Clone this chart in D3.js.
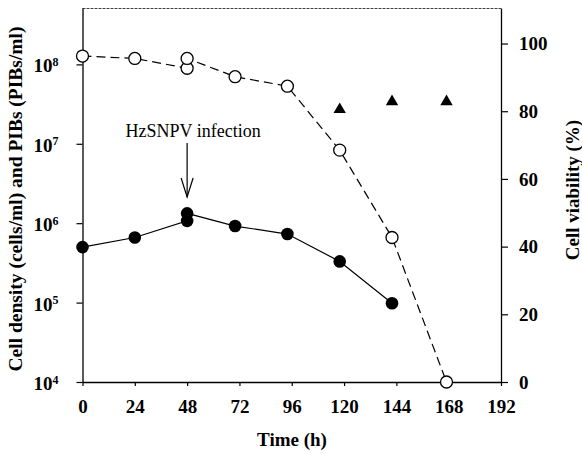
<!DOCTYPE html>
<html lang="en">
<head>
<meta charset="UTF-8">
<title>HzSNPV infection</title>
<style>
body{margin:0;background:#fff;}
.chart text{font-family:"Liberation Serif","Times New Roman",serif;fill:#000;}
</style>
</head>
<body>
<div class="chart"></div>
<script src="https://d3js.org/d3.v7.min.js"></script>
<script>
// tick labels
var xTicks = [0, 24, 48, 72, 96, 120, 144, 168, 192];
var leftExps = [4, 5, 6, 7, 8];
var rightTicks = [0, 20, 40, 60, 80, 100];

// cell density (cells/ml), filled circles
var densTime = [0, 24, 48, 48, 70, 94, 118, 142];
var densVal = [5.0e5, 6.6e5, 1.07e6, 1.33e6, 9.2e5, 7.3e5, 3.3e5, 9.8e4];

// cell viability (%), open circles
var viaTime = [0, 24, 48, 48, 70, 94, 118, 142, 167];
var viaVal = [96.3, 95.6, 92.7, 95.6, 90.2, 87.4, 68.5, 42.7, 0];

// PIBs (PIBs/ml), triangles
var pibTime = [118, 142, 167];
var pibVal = [2.7e7, 3.4e7, 3.4e7];

var margin = {top: 8, right: 80, bottom: 72, left: 82.5};
var W = 582, H = 454;
var width = 501 - margin.left;
var height = 382 - margin.top;

var svg = d3.select('.chart').append('svg')
	.attr('width', W).attr('height', H);
var g = svg.append('g')
	.attr('transform', `translate(${margin.left},${margin.top})`);

var x = d3.scaleLinear().domain([0, 192]).range([0, width]);
var yL = d3.scaleLog().domain([1e4, Math.pow(10, 8.71)]).range([height, 0]);
var yR = d3.scaleLinear().domain([0, 110.5]).range([height, 0]);

// frame top (dotted in the scan)
g.append('line').attr('x1', 0).attr('x2', width).attr('y1', 0.5).attr('y2', 0.5)
	.attr('stroke', '#444').attr('stroke-width', 1).attr('stroke-dasharray', '3,1');

var xAxis = d3.axisBottom(x).tickValues(xTicks).tickSizeInner(4).tickSizeOuter(0).tickPadding(14);
var gx = g.append('g').attr('transform', `translate(0,${height})`).call(xAxis);
gx.selectAll('text').style('font-size', '19px').style('font-weight', 'bold');

var lAxis = d3.axisLeft(yL).tickValues(leftExps.map(e => Math.pow(10, e)))
	.tickSizeInner(6).tickSizeOuter(0).tickPadding(18).tickFormat('');
var gl = g.append('g').call(lAxis);
gl.selectAll('.tick').each(function(d, i) {
	var t = d3.select(this).select('text')
		.attr('x', -24).attr('dy', '0.40em')
		.style('font-size', '19px').style('font-weight', 'bold').attr('text-anchor', 'end');
	t.append('tspan').text('10');
	t.append('tspan').attr('dy', '-0.55em').style('font-size', '12px').text(leftExps[i]);
});

var rAxis = d3.axisRight(yR).tickValues(rightTicks).tickSizeInner(7).tickSizeOuter(0).tickPadding(11);
var gr = g.append('g').attr('transform', `translate(${width},0)`).call(rAxis);
gr.selectAll('text').style('font-size', '19px').style('font-weight', 'bold');

g.selectAll('.domain').attr('stroke', '#000').attr('stroke-width', 1.3);
g.selectAll('.tick line').attr('stroke', '#000').attr('stroke-width', 1.2);

// axis titles
svg.append('text').attr('x', 292).attr('y', 446).attr('text-anchor', 'middle')
	.style('font-size', '19px').style('font-weight', 'bold').text('Time (h)');
svg.append('text').attr('transform', 'translate(22,199) rotate(-90)').attr('text-anchor', 'middle')
	.style('font-size', '19.5px').style('font-weight', 'bold')
	.text('Cell density (cells/ml) and PIBs (PIBs/ml)');
svg.append('text').attr('transform', 'translate(579,190) rotate(-90)').attr('text-anchor', 'middle')
	.style('font-size', '19px').style('font-weight', 'bold').text('Cell viability (%)');

// viability dashed line + open circles
var via = viaTime.map((t, i) => ({t: t, v: viaVal[i]}));
g.append('path').datum(via)
	.attr('d', d3.line().x(d => x(d.t)).y(d => yR(d.v)))
	.attr('fill', 'none').attr('stroke', '#000').attr('stroke-width', 1.2)
	.attr('stroke-dasharray', '9,5');
g.selectAll('.open').data(via).enter().append('circle')
	.attr('cx', d => x(d.t)).attr('cy', d => yR(d.v)).attr('r', 6)
	.attr('fill', '#fff').attr('stroke', '#000').attr('stroke-width', 1.3);

// density solid line + filled circles
var dens = densTime.map((t, i) => ({t: t, v: densVal[i]}));
g.append('path').datum(dens)
	.attr('d', d3.line().x(d => x(d.t)).y(d => yL(d.v)))
	.attr('fill', 'none').attr('stroke', '#000').attr('stroke-width', 1.2);
g.selectAll('.filled').data(dens).enter().append('circle')
	.attr('cx', d => x(d.t)).attr('cy', d => yL(d.v)).attr('r', 6.3)
	.attr('fill', '#000');

// PIBs triangles
g.selectAll('.tri').data(pibTime.map((t, i) => ({t: t, v: pibVal[i]}))).enter().append('path')
	.attr('transform', d => `translate(${x(d.t)},${yL(d.v)})`)
	.attr('d', d3.symbol().type(d3.symbolTriangle).size(66))
	.attr('fill', '#000');

// infection annotation
var ax = x(48);
svg.append('text').attr('x', margin.left + ax + 6).attr('y', 137).attr('text-anchor', 'middle')
	.style('font-size', '18px').text('HzSNPV infection');
var arrow = g.append('g').attr('stroke', '#000').attr('stroke-width', 1.2).attr('fill', 'none');
arrow.append('line').attr('x1', ax).attr('x2', ax).attr('y1', 135).attr('y2', 189);
arrow.append('path').attr('d', `M${ax - 6},${170}L${ax},${189}L${ax + 6},${170}`);
</script>
</body>
</html>
